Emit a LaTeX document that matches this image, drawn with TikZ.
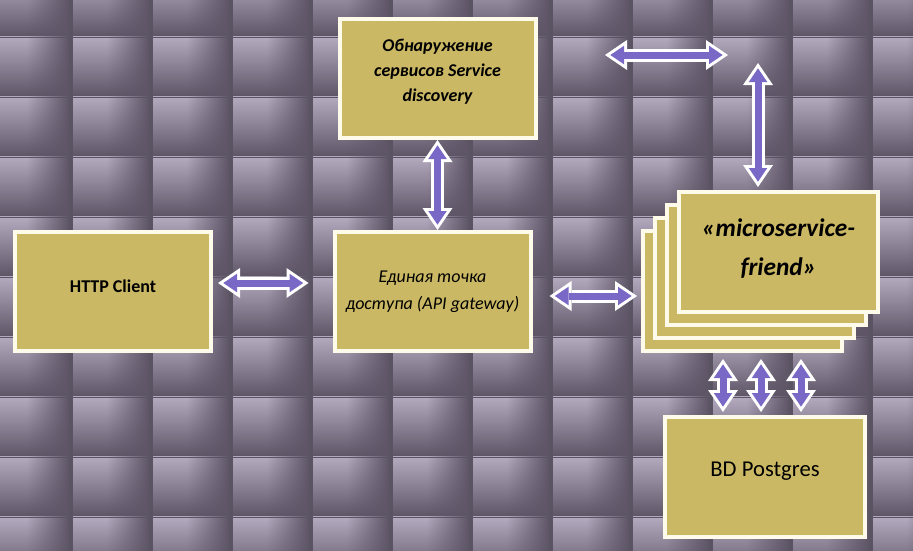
\documentclass[tikz,border=0pt]{standalone}
\usepackage{fontspec}
\setmainfont{Carlito}
\usetikzlibrary{arrows.meta,calc,fadings,shadows}
\definecolor{tilelight}{HTML}{B3A9BE}
\definecolor{tiledark}{HTML}{5E5667}
\definecolor{gapcol}{HTML}{5A5361}
\definecolor{boxfill}{HTML}{CAB864}
\definecolor{boxrim}{HTML}{FFFBEA}
\definecolor{lav}{HTML}{7968C6}
\pgfdeclarehorizontalshading{tileshade}{100bp}{color(0bp)=(tilelight); color(25bp)=(tilelight); color(47bp)=(tilelight); color(75bp)=(tiledark); color(100bp)=(tiledark)}
\tikzfading[name=tilefade, top color=transparent!100, middle color=transparent!100, bottom color=transparent!0]
\tikzset{
  blk/.style={draw=boxrim, line width=3pt, fill=boxfill, minimum width=147pt, minimum height=89.25pt, align=center, inner sep=2pt},
  stack/.style={blk, minimum width=149.25pt, minimum height=90pt, drop shadow={shadow xshift=0pt, shadow yshift=-1.5pt, opacity=.35, fill=black}},
  rim/.style={white, line width=9.75pt, {Triangle[width=22.5pt,length=16.5pt,line width=0pt]}-{Triangle[width=22.5pt,length=16.5pt,line width=0pt]}},
  core/.style={lav, line width=5.25pt, shorten <=4pt, shorten >=4pt, {Triangle[width=13.9pt,length=10.25pt,line width=0pt]}-{Triangle[width=13.9pt,length=10.25pt,line width=0pt]}},
}
\newcommand\fatarrow[2]{\draw[rim] #1 -- #2; \draw[core] #1 -- #2;}
\begin{document}
\begin{tikzpicture}[x=0.75pt,y=-0.75pt]
\useasboundingbox (0,0) rectangle (913,550);
\fill[gapcol] (-10,-10) rectangle (923,560);
\foreach \i in {0,...,11}
  \foreach \j in {0,...,9}
  {
    \shade[shading=tileshade] (-7+80*\i,-22+60*\j) rectangle ++(76,58);
    \fill[tiledark,path fading=tilefade] (-7+80*\i,-22+60*\j) rectangle ++(76,58);
  }

\node[blk,text depth=12pt,font=\fontsize{13.5}{18.75}\selectfont\bfseries\itshape] (disc) at (437.5,78.5) {Обнаружение\\сервисов Service\\discovery};
\node[blk,text depth=7.5pt,font=\fontsize{13.5}{16}\selectfont\bfseries] (http) at (113,291.5) {HTTP Client};
\node[blk,font=\fontsize{13.5}{20}\selectfont\itshape] (api) at (432.5,291.5) {Единая точка\\доступа (API gateway)};
\foreach \k in {3,2,1}
  \node[stack] (layer\k) at (778.5-12*\k,252+13*\k) {};
\node[stack,text depth=7.5pt,font=\fontsize{19}{29}\selectfont\bfseries\itshape] (micro) at (778.5,252) {«microservice-\\friend»};
\node[blk,minimum width=150pt,minimum height=90pt,text depth=11pt,font=\fontsize{17}{20}\selectfont] (postgres) at (765,477) {BD Postgres};

\coordinate (swapL) at (605,55);
\coordinate (swapR) at (728,55);
\coordinate (upend) at (758,63);

\fatarrow{(swapL)}{(swapR)}
\fatarrow{(upend)}{($(micro.north)+(-20.5,-3)$)}
\fatarrow{(disc.south)}{(disc.south |- api.north)}
\fatarrow{($(http.east)+(5,-8.5)$)}{($(api.west)+(-24,-8.5)$)}
\fatarrow{($(api.east)+(17,4.5)$)}{($(layer3.west)+(-4,5)$)}
\foreach \dx in {-42,-4,36}
{
  \fatarrow{($(postgres.north |- layer3.south)+(\dx,6)$)}{($(postgres.north)+(\dx,-3)$)}
}
\end{tikzpicture}
\end{document}
